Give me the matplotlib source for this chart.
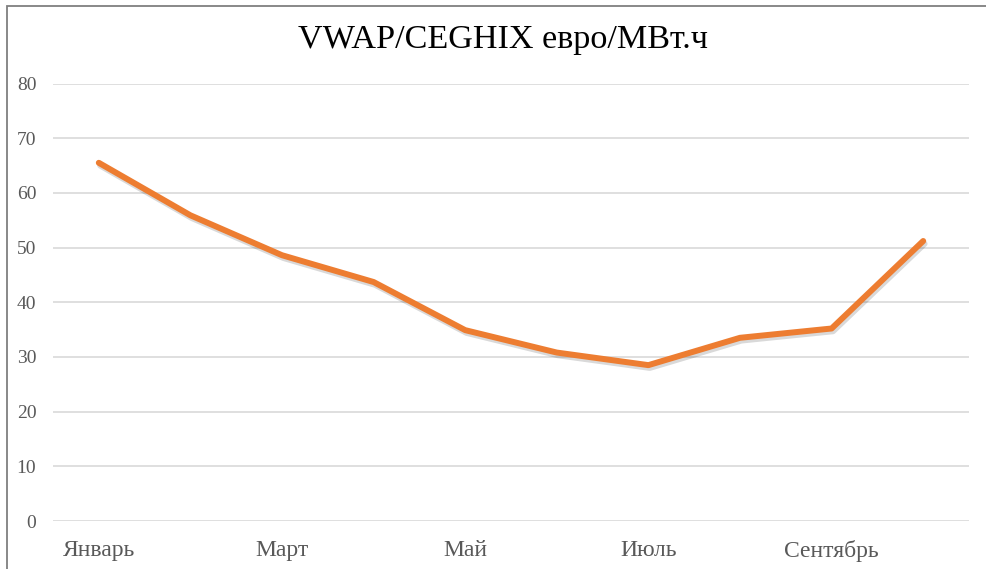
import matplotlib
matplotlib.use("Agg")
import matplotlib.pyplot as plt
import matplotlib.patheffects as pe
from matplotlib.patches import Rectangle

months = ["Январь", "Февраль", "Март", "Апрель", "Май", "Июнь", "Июль", "Август", "Сентябрь", "Октябрь"]
vwap = [65.5, 55.9, 48.6, 43.7, 34.9, 30.8, 28.5, 33.5, 35.2, 51.2]
yticks = [0, 10, 20, 30, 40, 50, 60, 70, 80]
title = "VWAP/CEGHIX евро/МВт.ч"

plt.rcParams['font.family'] = ['Liberation Serif', 'DejaVu Serif']

fig = plt.figure(figsize=(9.86, 5.69), dpi=100)
ax = fig.add_axes([53/986, 1 - 521/569, (969 - 53)/986, (521 - 83.5)/569])

x = list(range(len(months)))
ax.plot(x, vwap, color="#ED7D31", lw=4.3, solid_capstyle="round", solid_joinstyle="round",
        zorder=3,
        path_effects=[pe.SimpleLineShadow(offset=(1, -2), shadow_color="#000000", alpha=0.15),
                      pe.Normal()])

ax.set_xlim(-0.5, len(months) - 0.5)
ax.set_ylim(0, 80)
ax.set_yticks(yticks)
ax.set_yticklabels([str(v) for v in yticks])
ax.set_xticks(x[::2])
ax.set_xticklabels(months[::2])
ax.grid(axis="y", color="#d9d9d9", lw=1.2)
ax.set_axisbelow(True)
for s in ax.spines.values():
    s.set_visible(False)
ax.tick_params(axis="y", length=0, pad=12, labelsize=14, labelcolor="#595959")
ax.tick_params(axis="x", length=0, pad=14, labelsize=17, labelcolor="#595959")

fig.text(503/986, 1 - 40/569, title, ha="center", va="center", fontsize=24.6, color="#000000")

# outer frame (cropped on right and bottom)
fig.patches.append(Rectangle((7/986, -0.1), 1.2, 1 - 6.5/569 + 0.1, transform=fig.transFigure,
                             fill=False, edgecolor="#7f7f7f", lw=1.3))

fig.savefig("out.png", dpi=100, facecolor="white")
